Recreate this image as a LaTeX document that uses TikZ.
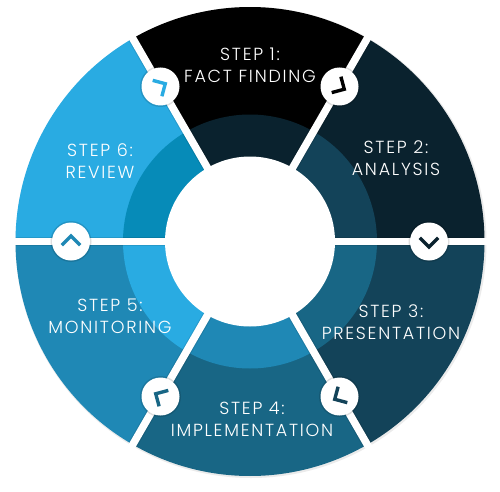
\documentclass[tikz,border=0pt]{standalone}
\usetikzlibrary{calc}
\usepackage{fontspec}
\setmainfont[UprightFont=* Light, LetterSpace=10]{Poppins}
\usepackage{xcolor}
\definecolor{stepblack}{RGB}{0, 0, 0}
\definecolor{stepnavy}{RGB}{10, 34, 46}
\definecolor{stepdeep}{RGB}{19, 67, 89}
\definecolor{stepteal}{RGB}{24, 102, 133}
\definecolor{stepblue}{RGB}{31, 136, 181}
\definecolor{stepsky}{RGB}{41, 171, 226}
\definecolor{stepcyan}{RGB}{6, 139, 184}
\tikzset{
  steplabel/.style={text=white, align=center, font=\fontsize{17.5}{22}\selectfont, inner sep=0pt},
  badge/.style={circle, fill=white, minimum size=38pt, inner sep=0pt},
  separator/.style={white, line width=7.5pt},
  softedge/.style={black, opacity=0.10, line width=9.5pt},
  chevron/.style={line width=3.4pt, line join=miter}
}
\begin{document}
\begin{tikzpicture}[x=1pt, y=1pt]
\useasboundingbox (0,0) rectangle (500,491);
\coordinate (hub) at (250,249.5);
% soft edge of the ring
\fill[black, opacity=0.08] ([xshift=1pt,yshift=-1pt]hub) circle (235.5);
% sectors: start angle, outer colour, inner colour
\foreach \a/\outercol/\innercol in {60/stepblack/stepnavy, 0/stepnavy/stepdeep, -60/stepdeep/stepteal, -120/stepteal/stepblue, 180/stepblue/stepsky, 120/stepsky/stepcyan} {
  \fill[\outercol] (hub) -- +(\a:234.5) arc[start angle=\a, delta angle=60, radius=234.5] -- cycle;
  \fill[\innercol] (hub) -- +(\a:127) arc[start angle=\a, delta angle=60, radius=127] -- cycle;
}
% separators
\begin{scope}
\clip (hub) circle (234.5);
\foreach \a in {0,60,...,300} {
  \coordinate (rim\a) at ($(hub)+(\a:242)$);
  \draw[softedge] (hub) -- (rim\a);
}
\end{scope}
\foreach \a in {0,60,...,300} {
  \coordinate (rim\a) at ($(hub)+(\a:242)$);
  \draw[separator] (hub) -- (rim\a);
}
\node[circle, fill=white, minimum size=170pt] (centre) at (hub) {};
% badges
\foreach \a/\col in {60/stepblack, 0/stepnavy, -60/stepdeep, -120/stepteal, 180/stepblue, 120/stepsky} {
  \fill[black, opacity=0.13] ($(hub)+(\a:179)$) circle (20.5);
  \node[badge] (badge\a) at ($(hub)+(\a:179)$) {};
  \draw[chevron, \col] ($(badge\a)+(\a-90:5.5)+(\a+45:13)$) -- ($(badge\a)+(\a-90:5.5)$) -- ($(badge\a)+(\a-90:5.5)+(\a+135:13)$);
}
\node[steplabel] (step1) at (250,426) {STEP 1:\\FACT FINDING};
\node[steplabel] (step2) at (396,333) {STEP 2:\\ANALYSIS};
\node[steplabel] (step3) at (391,169) {STEP 3:\\PRESENTATION};
\node[steplabel] (step4) at (252,72) {STEP 4:\\IMPLEMENTATION};
\node[steplabel] (step5) at (110,174.5) {STEP 5:\\MONITORING};
\node[steplabel] (step6) at (100,330) {STEP 6:\\REVIEW};
\end{tikzpicture}
\end{document}
